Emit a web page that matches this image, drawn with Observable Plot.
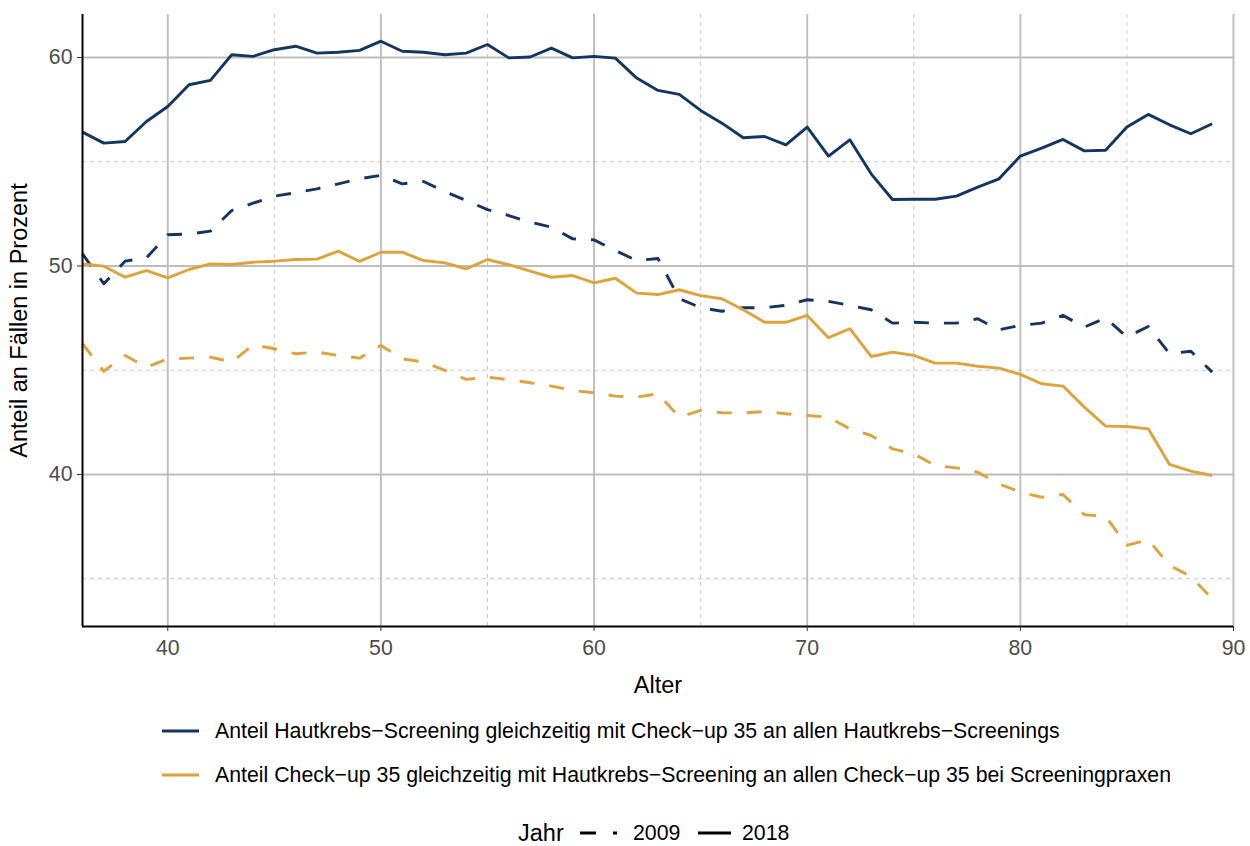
<!DOCTYPE html>
<html><head><meta charset="utf-8">
<script src="https://cdn.jsdelivr.net/npm/d3@7"></script>
<script src="https://cdn.jsdelivr.net/npm/@observablehq/plot@0.6"></script>
<style>
body{margin:0;background:#fff;font-family:"Liberation Sans",Arial,sans-serif;overflow:hidden;}
#chart svg{display:block}
</style></head><body><div id="chart"></div>
<script>
const ages = [36,37,38,39,40,41,42,43,44,45,46,47,48,49,50,51,52,53,54,55,56,57,58,59,60,61,62,63,64,65,66,67,68,69,70,71,72,73,74,75,76,77,78,79,80,81,82,83,84,85,86,87,88,89];
const hautkrebs2018 = [56.42,55.89,55.97,56.93,57.65,58.69,58.9,60.13,60.05,60.37,60.54,60.21,60.25,60.34,60.78,60.3,60.25,60.13,60.21,60.62,59.98,60.02,60.45,59.98,60.05,59.97,59.01,58.42,58.23,57.46,56.85,56.15,56.21,55.81,56.66,55.27,56.05,54.42,53.19,53.2,53.2,53.35,53.78,54.18,55.27,55.65,56.07,55.52,55.55,56.66,57.27,56.77,56.34,56.82];
const hautkrebs2009 = [50.58,49.15,50.23,50.39,51.5,51.53,51.67,52.66,53.01,53.35,53.51,53.7,53.94,54.18,54.35,53.94,54.05,53.57,53.14,52.7,52.42,52.1,51.86,51.3,51.25,50.74,50.26,50.36,48.43,48.0,47.83,48.0,48.0,48.11,48.38,48.3,48.11,47.9,47.26,47.3,47.26,47.26,47.47,46.94,47.15,47.26,47.63,47.07,47.5,46.59,47.1,45.79,45.91,44.91];
const checkup2018 = [50.1,49.99,49.46,49.78,49.43,49.83,50.1,50.07,50.18,50.23,50.31,50.33,50.71,50.22,50.66,50.66,50.26,50.15,49.86,50.31,50.06,49.75,49.46,49.54,49.19,49.41,48.7,48.63,48.86,48.58,48.43,47.9,47.3,47.3,47.63,46.56,46.99,45.66,45.87,45.71,45.34,45.34,45.19,45.1,44.8,44.35,44.24,43.23,42.32,42.3,42.19,40.48,40.16,39.95];
const checkup2009 = [46.27,44.95,45.71,45.15,45.55,45.58,45.63,45.39,46.22,46.03,45.79,45.87,45.71,45.58,46.19,45.55,45.39,44.99,44.56,44.67,44.54,44.4,44.24,44.03,43.92,43.76,43.71,43.87,42.75,43.07,42.96,42.95,43.02,42.91,42.83,42.75,42.19,41.87,41.23,40.99,40.43,40.32,40.11,39.55,39.15,38.91,39.04,38.07,37.99,36.6,36.87,35.64,35.11,34.04];

const seriesNames = [
  "Anteil Hautkrebs\u2212Screening gleichzeitig mit Check\u2212up 35 an allen Hautkrebs\u2212Screenings",
  "Anteil Check\u2212up 35 gleichzeitig mit Hautkrebs\u2212Screening an allen Check\u2212up 35 bei Screeningpraxen"
];
const seriesColors = ["#133562", "#E0A23C"];
const years = ["2009", "2018"];
const majorX = [40,50,60,70,80,90];
const minorX = [45,55,65,75,85];
const majorY = [40,50,60];
const minorY = [35,45,55];
const xDomain = [36, 90];
const yDomain = [32.71, 62.06];

const smallFont = 21.3;
const titleFont = 23.5;

function rows(values, series, year) {
  return ages.map((a, i) => ({age: a, value: values[i], series, year}));
}
const data2018 = [...rows(hautkrebs2018, seriesNames[0], "2018"), ...rows(checkup2018, seriesNames[1], "2018")];
const data2009 = [...rows(hautkrebs2009, seriesNames[0], "2009"), ...rows(checkup2009, seriesNames[1], "2009")];

const plot = Plot.plot({
  width: 1250, height: 700,
  marginLeft: 82, marginRight: 17, marginTop: 14, marginBottom: 74,
  style: {fontFamily: "'Liberation Sans', Arial, sans-serif", background: "white", color: "black"},
  x: {domain: xDomain},
  y: {domain: yDomain},
  color: {domain: seriesNames, range: seriesColors},
  marks: [
    Plot.gridX({ticks: minorX, stroke: "#C8C8C8", strokeOpacity: 1, strokeWidth: 1, strokeDasharray: "4,4"}),
    Plot.gridY({ticks: minorY, stroke: "#C8C8C8", strokeOpacity: 1, strokeWidth: 1, strokeDasharray: "4,4"}),
    Plot.gridX({ticks: majorX, stroke: "#BEBEBE", strokeOpacity: 1, strokeWidth: 1.9}),
    Plot.gridY({ticks: majorY, stroke: "#BEBEBE", strokeOpacity: 1, strokeWidth: 1.9}),
    Plot.lineY(data2009, {x: "age", y: "value", z: "series", stroke: "series", strokeWidth: 2.9, strokeDasharray: "15,15", strokeLinecap: "butt"}),
    Plot.lineY(data2018, {x: "age", y: "value", z: "series", stroke: "series", strokeWidth: 2.9, strokeLinecap: "butt"}),
    Plot.ruleX([xDomain[0]], {stroke: "black", strokeWidth: 2}),
    Plot.ruleY([yDomain[0]], {stroke: "black", strokeWidth: 2.2}),
    Plot.axisX({ticks: majorX, tickSize: 5, tickPadding: 8, fontSize: smallFont, stroke: "#333", fill: "#4D4D4D",
      label: "Alter", labelAnchor: "center", labelArrow: "none", labelOffset: 66}),
    Plot.axisY({ticks: majorY, tickSize: 5, tickPadding: 5, fontSize: smallFont, stroke: "#333", fill: "#4D4D4D",
      label: "Anteil an Fällen in Prozent", labelAnchor: "center", labelArrow: "none", labelOffset: 72})
  ]
});
plot.querySelectorAll("[aria-label='x-axis label'], [aria-label='y-axis label']").forEach(g => {
  g.setAttribute("fill", "black");
  g.setAttribute("font-size", String(titleFont));
});
document.getElementById("chart").appendChild(plot);

// Legend (below the plot)
const leg = d3.select("#chart").append("svg").attr("width", 1250).attr("height", 146)
  .style("display", "block").style("font-family", "'Liberation Sans', Arial, sans-serif");
const rowY = [31, 75];
seriesNames.forEach((name, i) => {
  leg.append("line").attr("x1", 162).attr("x2", 199).attr("y1", rowY[i]).attr("y2", rowY[i])
    .attr("stroke", seriesColors[i]).attr("stroke-width", 3);
  leg.append("text").attr("x", 215).attr("y", rowY[i]).attr("dy", "0.35em")
    .attr("font-size", smallFont).attr("fill", "black").text(name);
});
const by = 133;
leg.append("text").attr("x", 518).attr("y", by).attr("dy", "0.35em").attr("font-size", titleFont).text("Jahr");
leg.append("line").attr("x1", 580).attr("x2", 596).attr("y1", by).attr("y2", by).attr("stroke", "black").attr("stroke-width", 3);
leg.append("line").attr("x1", 613).attr("x2", 617).attr("y1", by).attr("y2", by).attr("stroke", "black").attr("stroke-width", 3);
leg.append("text").attr("x", 633).attr("y", by).attr("dy", "0.35em").attr("font-size", smallFont).text(years[0]);
leg.append("line").attr("x1", 698).attr("x2", 731).attr("y1", by).attr("y2", by).attr("stroke", "black").attr("stroke-width", 3);
leg.append("text").attr("x", 742).attr("y", by).attr("dy", "0.35em").attr("font-size", smallFont).text(years[1]);
</script></body></html>
